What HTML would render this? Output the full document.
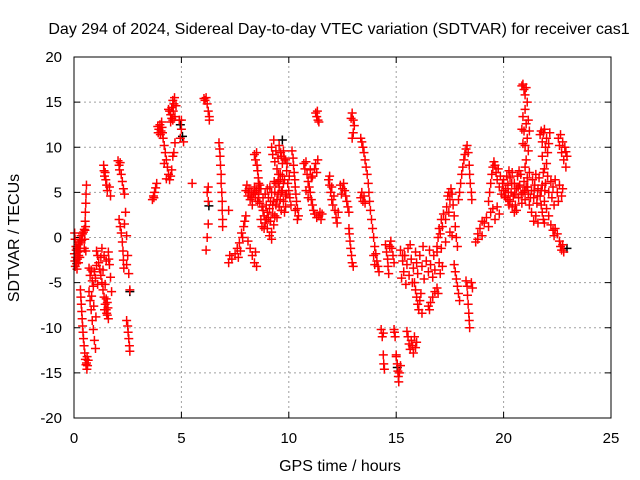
<!DOCTYPE html>
<html><head><meta charset="utf-8"><style>
html,body{margin:0;padding:0;background:#fff;}
svg{display:block;font-family:"Liberation Sans",sans-serif;}
</style></head><body>
<svg id="chart" width="640" height="480" viewBox="0 0 640 480">
<text x="339" y="34" text-anchor="middle" font-size="16">Day 294 of 2024, Sidereal Day-to-day VTEC variation (SDTVAR) for receiver cas1</text>
<text x="340" y="471" text-anchor="middle" font-size="16">GPS time / hours</text>
<text transform="translate(19,238) rotate(-90)" text-anchor="middle" font-size="16">SDTVAR / TECUs</text>
<g id="grid"></g>
<g id="ticks"></g>
<g id="marks"></g>
<rect x="74" y="57" width="537" height="361" fill="none" stroke="#000" stroke-width="1"/>
</svg>
<script>
const xTicks = [0,5,10,15,20,25];
const yTicks = [-20,-15,-10,-5,0,5,10,15,20];
const blackPoints = [[2.6,-6],[4.95,12.5],[5.05,11.2],[6.28,3.5],[9.7,10.8],[22.95,-1.2],[15.05,-14.4]];
const redPoints = [
[0.02,-1.8],[0.04,-2.6],[0.06,-3.2],[0.08,-2.2],[0.1,-1.4],[0.12,-2.9],[0.14,-3.5],[0.16,-2.4],[0.18,-1.6],[0.2,-0.8],[0.22,-2],[0.24,-1.2],[0.26,-0.4],[0.28,-1.5],[0.3,-0.6],[0.33,0.2],[0.36,-0.3],[0.4,0.4],[0.44,0.6],[0.48,0.9],[0.03,0.5],[0.05,-0.2],[0.09,-1],[0.15,-1.2],[0.21,-2.8],[0.27,-2.2],
[0.3,-5.8],[0.32,-6.6],[0.34,-7.4],[0.36,-8.2],[0.38,-9],[0.4,-9.8],[0.42,-10.5],[0.44,-11.2],[0.47,-12],[0.5,-12.8],[0.53,-13.5],[0.56,-14.1],[0.6,-14.6],[0.63,-14.2],[0.66,-13.6],[0.58,-13.9],[0.61,-13.2],
[0.48,-1.2],[0.5,-0.2],[0.51,0.8],[0.52,1.8],[0.53,2.8],[0.55,3.8],[0.56,4.8],[0.58,5.8],[0.54,1.2],[0.55,-1.5],
[0.7,-3.4],[0.75,-4.2],[0.8,-3.6],[0.85,-4.8],[0.9,-5.4],[0.95,-3.8],[1.0,-4.5],[1.05,-3.1],[1.1,-5.2],[0.7,-6],[0.75,-7],[0.8,-8],[0.85,-9.2],[0.9,-10.2],[0.95,-11.4],[1.0,-12.3],[0.82,-6.5],[0.92,-7.6],[1.02,-8.8],
[1.05,-1.5],[1.1,-2],[1.15,-2.8],[1.2,-3.5],[1.25,-4.2],[1.3,-5],[1.35,-5.8],[1.4,-6.6],[1.45,-7.4],[1.5,-8],[1.55,-8.6],[1.6,-9],[1.3,-1.2],[1.4,-2],[1.5,-2.6],[1.6,-1.6],[1.65,-3],[1.7,-4.4],[1.75,-6],[1.5,-6.8],[1.55,-7.2],[1.45,-5.2],[1.35,-3.6],[1.25,-2.2],[1.62,-2.4],[1.42,-8],[1.52,-8.4],[1.58,-7.8],
[1.38,8],[1.4,7.4],[1.42,6.8],[1.45,7.2],[1.48,6.4],[1.52,5.8],[1.55,5.2],[1.65,5.6],[1.7,4.6],
[2.05,8.5],[2.1,8],[2.12,7.5],[2.15,8.3],[2.2,7],[2.25,6.2],[2.3,5.4],[2.35,4.8],
[2.1,2],[2.15,1.2],[2.2,0.5],[2.25,-0.5],[2.28,-1.5],[2.3,-2.5],[2.32,-3.4],[2.35,1.5],[2.4,2.8],[2.45,0.2],[2.5,-2],[2.55,-4],[2.6,-5.8],[2.45,-3],
[2.45,-9.2],[2.5,-9.8],[2.52,-10.5],[2.55,-11.2],[2.58,-12],[2.6,-12.6],
[3.65,4.2],[3.7,4.6],[3.75,5],[3.8,5.5],[3.85,6],[3.72,4.4],
[3.9,12.3],[3.95,12],[4.0,12.5],[4.05,11.8],[4.1,12.2],[4.15,11],[4.2,10.2],[4.25,9.4],[4.3,8.6],[4.35,7.8],[4.4,7],[4.45,6.4],[4.5,6.8],[4.55,7.5],[4.6,9],[4.65,9.4],[4.7,10.5],[4.2,8.2],[4.3,6.5],[3.92,11.6],[4.02,11.4],[4.08,12.8],[4.12,11.6],
[4.4,14.2],[4.45,14],[4.5,13.6],[4.55,14.4],[4.6,15.2],[4.65,14.8],[4.7,13.4],[4.75,14.6],[4.5,12.8],[4.6,13],[4.68,15.5],[4.55,13.2],[4.62,14],
[5.0,13],[4.95,11],[4.9,13],[5.0,12],[5.1,10.6],[5.5,6],
[6.05,15.4],[6.1,15.2],[6.15,15.5],[6.2,14.8],[6.25,14],[6.3,13.4],[6.3,13],
[6.2,5],[6.25,4],[6.25,1.5],[6.2,0],[6.15,-1.4],[6.25,5.6],[6.75,10.5],[6.78,9.8],[6.8,9],[6.82,8],[6.85,7],[6.85,6],[6.88,5],[6.9,4],[6.9,3],[6.92,2],[6.92,1.2],[7.2,3],
[7.2,-2.8],[7.25,-2],[7.35,-2.4],[7.5,-1.8],[7.6,-1.2],[7.7,-0.6],[7.75,-1.5],[7.8,0.5],[7.85,0],[7.9,1.2],[7.95,1.8],[8.0,2.4],[7.65,-2.2],
[8.0,5.2],[8.05,5.8],[8.1,4.6],[8.15,5.4],[8.2,4.2],[8.25,5],[8.3,3.6],[8.35,4.8],[8.4,5.6],[8.45,4.4],[8.5,5.2],[8.55,4],[8.6,4.8],[8.65,3.8],[8.7,5.4],[8.65,5.8],[8.12,5],[8.28,4.4],[8.42,5],[8.58,4.4],
[8.4,9.2],[8.45,8.6],[8.5,9.4],[8.52,8],[8.55,7.4],[8.58,6.6],[8.6,6],[8.62,5.4],
[8.7,2],[8.75,1.2],[8.8,3],[8.85,2.4],[8.9,1.6],[8.95,3.6],[9.0,2.8],[9.05,4.4],[9.1,3.2],[9.15,1.8],[9.2,0.6],[9.25,2.6],[9.3,4],[9.35,5],[9.4,3.6],[9.45,2.2],[9.5,4.8],[9.55,5.6],[9.6,4.2],[9.65,3],[9.7,5.2],[9.75,4],[9.8,2.8],[9.85,4.6],[8.8,4.4],[8.9,4.8],[9.0,1],[9.1,0.2],[9.2,-0.2],[9.3,1.4],[9.0,5.4],[9.2,5],[9.4,6],[9.6,6.4],
[8.75,3.4],[8.85,1],[8.95,2],[9.05,2.2],[9.15,4],[9.25,3.6],[9.35,2.4],[9.45,4.2],[9.55,3.4],[9.65,5],[9.75,6],[9.85,3.4],[9.12,5.6],[9.32,6.2],[9.52,7],
[8.1,-0.4],[8.2,-1.2],[8.3,-2],[8.4,-2.8],[8.5,-3.2],[8.45,-1.6],
[9.2,10],[9.25,9.2],[9.3,10.8],[9.35,8.4],[9.4,9.6],[9.45,7.6],[9.5,8.8],[9.55,10.2],[9.6,7],[9.65,9],[9.7,8.2],[9.75,9.6],[9.8,6.4],[9.85,8.6],[9.9,7.4],[9.95,6],[10.0,5.2],[10.05,4.4],[10.1,3.6],[9.5,6.2],[9.7,6.8],[9.9,4.8],[9.62,9.4],[9.78,8.8],[9.92,8.2],[10.02,6.8],
[10.15,9.6],[10.2,8.8],[10.22,8],[10.25,7.2],[10.28,6.4],[10.3,5.6],[10.33,4.8],[10.36,4],[10.4,3.2],[10.45,2.4],[10.4,2],[10.3,3],
[10.7,8.2],[10.75,7.6],[10.8,8.4],[10.85,7],[10.9,6.2],[10.95,5.6],[11.0,5],[11.05,4.2],[11.1,3.6],[11.15,3],[11.2,2.6],[11.3,2.2],[11.4,2.4],[11.5,2],[11.55,2.6],[11.0,7.5],[11.1,6.8],[11.2,7.6],[11.25,8.2],[11.3,7.2],[11.35,8.6],[10.9,4.4],[10.8,5.2],[11.05,6.6],[11.45,2.8],
[11.25,13.8],[11.3,13.4],[11.33,14],[11.36,13],[11.4,12.8],
[11.85,6.4],[11.9,5.8],[11.95,5],[12.0,4.2],[12.05,3.6],[12.1,4.6],[12.15,3],[12.2,2.2],[12.25,1.6],[12.3,2.8],[11.9,6.8],[12.0,5.6],
[12.4,5.8],[12.5,5.4],[12.55,6],[12.6,5.2],[12.65,4.6],[12.7,4],[12.75,3.4],[12.8,2.8],[12.45,4.8],
[12.8,1],[12.82,0.4],[12.85,-0.4],[12.88,-1.2],[12.92,-2],[12.95,-2.8],[13.0,-3.2],
[12.9,13.2],[12.95,13.8],[13.0,13],[13.05,12.4],[13.0,11.6],[12.95,11],
[13.35,4.4],[13.4,5],[13.45,4],[13.5,4.6],[13.55,3.8],
[13.35,11],[13.4,10.6],[13.45,10],[13.5,9.4],[13.55,8.6],[13.6,7.8],[13.65,7],[13.7,6],[13.73,5],[13.76,4],[13.8,3],[13.85,2],[13.9,1],[13.95,0],[14.0,-1],[14.05,-1.8],[14.1,-2.6],[14.15,-3.2],[14.2,-3.8],[13.95,-2],[14.0,-3],
[14.3,-10.2],[14.35,-11],[14.4,-10.6],[14.4,-13],[14.42,-14],[14.45,-14.6],[14.9,-10.2],[14.95,-11],[14.92,-10.5],
[15.0,-13.2],[15.05,-14],[15.08,-14.8],[15.1,-15.4],[15.12,-16],[15.15,-15],[15.2,-14.2],[15.0,-13],
[14.5,-0.8],[14.55,-1.6],[14.6,-2.4],[14.62,-3.2],[14.65,-4],[14.7,-1],[14.75,-0.4],[14.8,-1.2],[14.85,-2],[14.9,-2.8],
[15.2,-1.4],[15.3,-2.6],[15.35,-3.8],[15.4,-2],[15.5,-3],[15.55,-1.2],[15.6,-4.2],[15.7,-2.4],[15.75,-5],[15.8,-3.4],[15.9,-1.6],[15.95,-2.8],[16.0,-4],[16.1,-2],[16.2,-3.2],[16.25,-1],[16.3,-4.6],[16.4,-2.6],[16.5,-3.8],[16.55,-1.4],[16.6,-3],[16.7,-4.4],[16.75,-2],[16.8,-3.6],[16.9,-1.6],[17.0,-2.8],[17.05,-4],[17.1,-1.2],[17.15,-3.2],[15.25,-4.5],[15.45,-5.2],[15.65,-0.8],[15.3,-2],
[15.85,-5],[15.9,-5.8],[15.95,-6.6],[16.0,-7.4],[16.05,-8],[16.1,-7],[16.15,-6.2],[16.2,-8.4],
[15.5,-10.4],[15.55,-11],[15.6,-11.8],[15.65,-12.4],[15.7,-11.4],[15.75,-12],[15.8,-12.8],[15.85,-11],[15.9,-12.2],[15.95,-11.6],
[16.5,-7.6],[16.55,-8],[16.6,-7.2],[16.7,-6.6],[16.8,-6],[16.9,-5.6],[16.95,-6.2],
[16.9,-1],[16.95,0],[17.0,1],[17.05,0.4],[17.1,2],[17.15,1.2],[17.2,2.6],[17.3,2],[17.35,3.4],[17.4,4.6],[17.45,5],[17.5,4.2],[17.55,5.4],[17.6,4.8],[17.65,3.6],[17.7,2.4],[17.75,1.2],[17.8,0],[17.85,-1],[17.3,-0.5],[17.5,0.6],[17.45,2.8],[17.6,0.2],
[17.7,-3],[17.75,-3.8],[17.8,-4.6],[17.85,-5.4],[17.9,-6.2],[17.95,-7],
[17.9,4.2],[17.95,5],[18.0,6],[18.05,7],[18.1,7.8],[18.15,8.6],[18.2,9.2],[18.25,9.8],[18.3,10.2],[18.35,9.4],[18.4,8],[18.42,7],[18.45,6],[18.5,5],[18.52,4.2],
[18.25,-4.8],[18.3,-5.4],[18.32,-6.4],[18.35,-7.4],[18.38,-8.4],[18.4,-9.2],[18.42,-10],[18.5,-5],[18.55,-5.6],
[18.7,-0.5],[18.8,0.4],[18.9,1],[19.0,0.2],[19.1,1.6],[19.2,2.2],[19.3,1.2],[19.4,2.8],[19.5,3.2],[19.6,2],[19.7,3.4],[19.8,2.6],[19.0,1.8],[18.8,-0.2],
[19.3,4],[19.35,5],[19.4,6],[19.45,7],[19.5,7.8],[19.55,8.4],[19.6,8],[19.65,7.2],[19.7,6.4],[19.75,7.6],[19.8,5.6],[19.85,6.8],[19.9,4.8],[19.95,6],[20.0,5.2],[20.1,4.4],[20.2,5.8],[20.25,3.6],
[20.0,6.4],[20.1,5.4],[20.15,6.8],[20.2,4.2],[20.3,6.6],[20.35,5],[20.4,7.2],[20.45,4.6],[20.5,6],[20.55,3.6],[20.6,5.4],[20.65,6.8],[20.7,4.4],[20.75,5.8],[20.8,7],[20.85,3.8],[20.9,5],[20.95,6.2],[21.0,4.2],[21.05,5.6],[21.1,6.6],[21.15,4.8],[21.2,3.6],[21.3,5.2],[21.35,6.4],[21.4,4.4],[21.45,5.8],[21.5,7],[21.55,3.8],[21.6,5.4],[21.65,6.6],[21.7,4.6],[21.8,5.8],[21.85,7.2],[21.9,4],[21.95,6],[20.25,7.4],[20.6,3],[20.5,2.8],[20.4,3.4],
[20.05,4.6],[20.22,5],[20.38,6],[20.52,4.8],[20.68,5.6],[20.82,4.8],[20.98,5.2],[21.12,5.6],[21.25,4.4],[21.42,5.2],[21.58,4.6],[21.75,5.2],[21.92,5.2],[20.3,4],[20.72,7.4],[21.2,7.2],
[20.85,16.8],[20.9,17],[20.95,16.4],[21.0,15.8],[21.05,16.6],[21.1,15],[21.0,14.2],[20.9,13.4],[21.05,12.6],[20.95,11.8],[21.1,11],[21.0,10.2],[21.15,9.6],[20.85,12],[20.9,10.4],[21.15,13],[21.2,11.8],[21.05,8.6],[21.0,7.8],
[21.3,2.8],[21.4,1.8],[21.5,2.4],[21.6,1.6],
[21.7,11.4],[21.75,11.8],[21.8,10.6],[21.85,11.6],[21.9,12],[21.95,10],[22.0,11],[22.05,9.4],[22.1,10.4],[22.15,11.6],[21.8,9],[22.0,8.2],[21.9,7.6],[22.05,6.8],
[21.75,3.6],[21.8,2.8],[21.85,2],[21.9,1.6],[22.0,3.2],[22.1,2.4],
[22.1,5],[22.2,6.2],[22.25,4.4],[22.3,5.6],[22.35,3.6],[22.4,6.4],[22.5,5],[22.55,4],[22.6,5.8],[22.7,4.6],[22.75,5.4],
[22.2,1.4],[22.3,0.8],[22.35,0.2],[22.4,1],[22.5,0.4],
[22.55,11],[22.6,10.2],[22.65,11.4],[22.7,9.4],[22.75,10.6],[22.8,8.6],[22.85,10],[22.9,7.8],[22.95,9],[22.9,9.5],
[22.6,-0.4],[22.65,-1],[22.7,-1.4],[22.75,-0.8],[22.8,-1.6]
];

const NS='http://www.w3.org/2000/svg';
const X0=74,X1=611,Y0=418,Y1=57;
function sx(t){return X0+(t-0)/(25-0)*(X1-X0);}
function sy(v){return Y0-(v+20)/40*(Y0-Y1);}
function mk(tag,attrs,parent){const e=document.createElementNS(NS,tag);for(const k in attrs)e.setAttribute(k,attrs[k]);parent.appendChild(e);return e;}
const grid=document.getElementById('grid'),ticks=document.getElementById('ticks'),marks=document.getElementById('marks');
xTicks.forEach(t=>{
  const x=sx(t);
  if(t>0&&t<25){const g=mk('line',{x1:x,y1:Y0,x2:x,y2:Y1,stroke:'#a0a0a0','stroke-dasharray':'2,3','stroke-width':1},grid);
  
  }
  mk('line',{x1:x,y1:Y0,x2:x,y2:Y0-6,stroke:'#000'},ticks);
  mk('line',{x1:x,y1:Y1,x2:x,y2:Y1+6,stroke:'#000'},ticks);
  const l=mk('text',{x:x,y:443,'text-anchor':'middle','font-size':15},ticks);l.textContent=t;
  
  
});
yTicks.forEach(v=>{
  const y=sy(v);
  if(v>-20&&v<20){const g=mk('line',{x1:X0,y1:y,x2:X1,y2:y,stroke:'#a0a0a0','stroke-dasharray':'2,3','stroke-width':1},grid);
  
  }
  mk('line',{x1:X0,y1:y,x2:X0+6,y2:y,stroke:'#000'},ticks);
  mk('line',{x1:X1,y1:y,x2:X1-6,y2:y,stroke:'#000'},ticks);
  const l=mk('text',{x:62,y:y+5,'text-anchor':'end','font-size':15},ticks);l.textContent=v;
  
  
});
function plus(p,color){
  const x=sx(p[0]),y=sy(p[1]);
  const e=mk('path',{d:`M${x-4.5},${y}H${x+4.5}M${x},${y-4.5}V${y+4.5}`,stroke:color,'stroke-width':1.5,fill:'none'},marks);
  
  
}
blackPoints.forEach(p=>plus(p,'#000000'));
redPoints.forEach(p=>plus(p,'#ff0000'));
</script>
</body></html>
